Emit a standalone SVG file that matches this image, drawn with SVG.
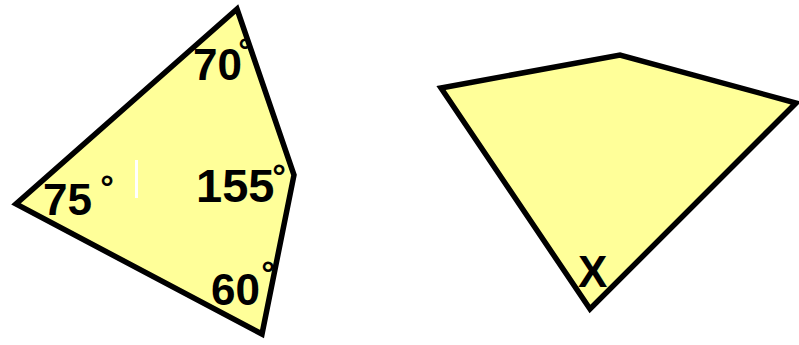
<svg xmlns="http://www.w3.org/2000/svg" width="799" height="345" viewBox="0 0 799 345">
<style>
.shape{fill:#FFFF99;stroke:#000;stroke-width:5.5;stroke-linejoin:miter}
.lbl{font-family:"Liberation Sans",Arial,sans-serif;font-weight:bold;font-size:44px;fill:#000}
.deg{font-family:"Liberation Sans",Arial,sans-serif;font-weight:bold;font-size:34px;fill:#000;text-anchor:middle}
</style>
<rect width="799" height="345" fill="#fff"/>
<g id="quad-left">
<polygon class="shape" points="237,9 294,175 262,334 16,204"/>
<rect x="135" y="160" width="3" height="38" fill="#fff"/>
<text class="lbl" x="193" y="80">70</text>
<text class="deg" x="245" y="62">°</text>
<text class="lbl" x="43" y="215">75</text>
<text class="deg" x="107" y="199">°</text>
<text class="lbl" x="196" y="202" style="font-size:47px">155</text>
<text class="deg" x="279" y="188">°</text>
<text class="lbl" x="211" y="305">60</text>
<text class="deg" x="268" y="285">°</text>
</g>
<g id="quad-right">
<polygon class="shape" points="441,88 620,55 796,103 590,309"/>
<text class="lbl" x="578" y="287">X</text>
</g>
<g id="connectors"></g>
</svg>
